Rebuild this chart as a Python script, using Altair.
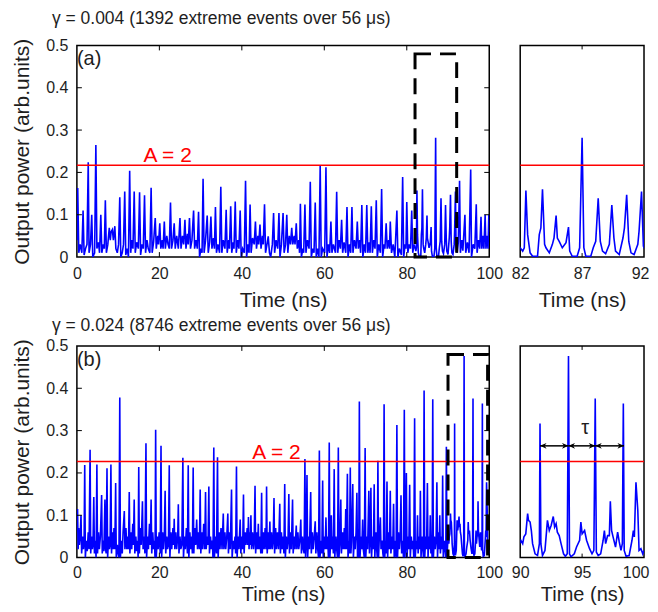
import altair as alt
import pandas as pd

FONT = "Liberation Sans"
BLUE = "#0000ff"
RED = "#ff0000"
INK = "#1e1e1e"

# ---------------- data ----------------
top_title = "γ = 0.004 (1392 extreme events over 56 μs)"
bottom_title = "γ = 0.024 (8746 extreme events over 56 μs)"

# (time ns, output power) — row (a)
top_trace = [
    (0.0, 0.04), (0.2, 0.163), (0.45, 0.01), (0.8, 0.03), (1.2, 0.01), (1.5, 0.11), (1.75, 0.005),
    (2.1, 0.02), (2.45, 0.03), (2.75, 0.224), (2.95, 0.01), (3.3, 0.03), (3.6, 0.10), (3.85, 0.0),
    (4.3, 0.01), (4.6, 0.265), (4.85, 0.02), (5.2, 0.035), (5.5, 0.01), (5.8, 0.10), (6.05, 0.01),
    (6.4, 0.03), (6.65, 0.02), (6.9, 0.134), (7.15, 0.01), (7.5, 0.03), (7.85, 0.069), (8.1, 0.04),
    (8.3, 0.06), (8.6, 0.065), (8.85, 0.04), (9.2, 0.073), (9.45, 0.02), (9.8, 0.01), (10.1, 0.03),
    (10.4, 0.141), (10.65, 0.0), (11.0, 0.01), (11.3, 0.03), (11.6, 0.155), (11.85, 0.005), (12.2, 0.02),
    (12.5, 0.0), (12.8, 0.204), (13.05, 0.01), (13.3, 0.04), (13.6, 0.02), (13.9, 0.155), (14.15, 0.01),
    (14.5, 0.035), (14.9, 0.02), (15.2, 0.153), (15.45, 0.005), (15.8, 0.03), (16.1, 0.02), (16.4, 0.146),
    (16.65, 0.01), (17.0, 0.04), (17.3, 0.02), (17.7, 0.01), (18.0, 0.164), (18.25, 0.01), (18.6, 0.035),
    (19.0, 0.092), (19.25, 0.02), (19.6, 0.05), (19.8, 0.03), (20.1, 0.080), (20.35, 0.02), (20.7, 0.04),
    (20.9, 0.02), (21.2, 0.084), (21.45, 0.02), (21.8, 0.05), (22.1, 0.03), (22.4, 0.02), (22.7, 0.129),
    (22.95, 0.02), (23.3, 0.04), (23.6, 0.08), (23.85, 0.02), (24.2, 0.05), (24.6, 0.02), (25.0, 0.092),
    (25.25, 0.02), (25.6, 0.05), (25.9, 0.03), (26.2, 0.088), (26.45, 0.02), (26.8, 0.055), (27.0, 0.03),
    (27.3, 0.092), (27.55, 0.02), (27.9, 0.04), (28.3, 0.11), (28.55, 0.02), (28.9, 0.04), (29.2, 0.02),
    (29.5, 0.107), (29.75, 0.0), (30.1, 0.02), (30.35, 0.01), (30.6, 0.185), (30.85, 0.01), (31.2, 0.04),
    (31.6, 0.098), (31.85, 0.01), (32.2, 0.035), (32.5, 0.096), (32.75, 0.02), (33.1, 0.045), (33.35, 0.02),
    (33.6, 0.118), (33.85, 0.01), (34.2, 0.03), (34.6, 0.01), (34.9, 0.166), (35.15, 0.01), (35.5, 0.04),
    (35.9, 0.02), (36.2, 0.112), (36.45, 0.01), (36.8, 0.04), (37.0, 0.02), (37.3, 0.12), (37.55, 0.01),
    (37.9, 0.035), (38.1, 0.02), (38.4, 0.131), (38.65, 0.01), (39.0, 0.04), (39.3, 0.02), (39.6, 0.11),
    (39.85, 0.0), (40.2, 0.02), (40.6, 0.01), (40.9, 0.18), (41.15, 0.0), (41.5, 0.03), (41.75, 0.01),
    (42.0, 0.124), (42.25, 0.01), (42.6, 0.045), (43.0, 0.03), (43.3, 0.084), (43.55, 0.02), (43.9, 0.05),
    (44.1, 0.03), (44.4, 0.077), (44.65, 0.02), (45.0, 0.05), (45.2, 0.03), (45.5, 0.125), (45.75, 0.01),
    (46.1, 0.03), (46.4, 0.049), (46.7, 0.01), (47.0, 0.0), (47.4, 0.03), (47.7, 0.104), (47.95, 0.01),
    (48.3, 0.04), (48.7, 0.02), (49.0, 0.104), (49.25, 0.0), (49.6, 0.03), (50.0, 0.104), (50.25, 0.01),
    (50.6, 0.03), (50.9, 0.10), (51.15, 0.01), (51.5, 0.05), (51.8, 0.03), (52.1, 0.069), (52.35, 0.03),
    (52.7, 0.05), (52.9, 0.03), (53.2, 0.08), (53.45, 0.02), (53.8, 0.04), (54.0, 0.01), (54.2, 0.126),
    (54.45, 0.0), (54.8, 0.02), (55.0, 0.01), (55.3, 0.124), (55.55, 0.01), (55.9, 0.04), (56.3, 0.02),
    (56.6, 0.178), (56.85, 0.0), (57.2, 0.02), (57.5, 0.01), (57.8, 0.129), (58.05, 0.0), (58.4, 0.02),
    (58.7, 0.0), (59.0, 0.216), (59.25, 0.0), (59.6, 0.02), (60.1, 0.01), (60.4, 0.212), (60.65, 0.0),
    (61.0, 0.03), (61.3, 0.01), (61.6, 0.084), (61.85, 0.01), (62.2, 0.03), (62.7, 0.01), (63.0, 0.154),
    (63.25, 0.01), (63.6, 0.04), (63.9, 0.02), (64.2, 0.088), (64.45, 0.01), (64.8, 0.035), (65.2, 0.01),
    (65.5, 0.118), (65.75, 0.0), (66.1, 0.03), (66.4, 0.01), (66.7, 0.118), (66.95, 0.01), (67.3, 0.04),
    (67.7, 0.02), (68.0, 0.084), (68.25, 0.02), (68.6, 0.04), (68.8, 0.01), (69.1, 0.123), (69.35, 0.0),
    (69.7, 0.03), (70.0, 0.01), (70.3, 0.123), (70.55, 0.01), (70.9, 0.035), (71.1, 0.01), (71.4, 0.12),
    (71.65, 0.01), (72.0, 0.04), (72.3, 0.02), (72.6, 0.134), (72.85, 0.0), (73.2, 0.03), (73.6, 0.01),
    (73.9, 0.161), (74.15, 0.0), (74.5, 0.03), (74.7, 0.02), (75.0, 0.08), (75.25, 0.02), (75.6, 0.04),
    (75.8, 0.02), (76.0, 0.084), (76.3, 0.01), (76.7, 0.03), (77.1, 0.0), (77.6, 0.11), (77.85, 0.0),
    (78.2, 0.02), (78.7, 0.005), (79.0, 0.189), (79.25, 0.0), (79.6, 0.03), (79.8, 0.02), (80.0, 0.13),
    (80.25, 0.01), (80.6, 0.03), (80.9, 0.02), (81.2, 0.11), (81.45, 0.01), (81.75, 0.03),
    (82.0, 0.022), (82.2, 0.014), (82.33, 0.022), (82.46, 0.157), (82.6, 0.053), (82.8, 0.010),
    (83.0, 0.002), (83.4, 0.002), (83.54, 0.053), (83.67, 0.069), (83.8, 0.16), (83.97, 0.030),
    (84.08, 0.022), (84.35, 0.010), (84.6, 0.030), (84.73, 0.045), (84.9, 0.098), (85.0, 0.045),
    (85.15, 0.037), (85.4, 0.022), (85.7, 0.034), (85.9, 0.071), (86.0, 0.014), (86.2, 0.002),
    (86.6, 0.002), (86.8, 0.022), (87.0, 0.282), (87.14, 0.022), (87.3, 0.002), (87.7, 0.002),
    (87.9, 0.022), (88.1, 0.037), (88.3, 0.139), (88.47, 0.037), (88.65, 0.014), (88.9, 0.008),
    (89.2, 0.030), (89.4, 0.123), (89.57, 0.045), (89.7, 0.014), (90.0, 0.006), (90.3, 0.045),
    (90.42, 0.069), (90.6, 0.147), (90.77, 0.037), (90.95, 0.010), (91.2, 0.006), (91.5, 0.030),
    (91.6, 0.061), (91.8, 0.155), (91.95, 0.026),
    (92.2, 0.01), (92.5, 0.035), (92.8, 0.18), (93.0, 0.01), (93.35, 0.04), (93.6, 0.015), (94.1, 0.1),
    (94.3, 0.01), (94.7, 0.035), (95.1, 0.01), (95.5, 0.207), (95.7, 0.0), (96.1, 0.03), (96.5, 0.02),
    (96.85, 0.125), (97.05, 0.01), (97.4, 0.04), (97.7, 0.02), (98.0, 0.095), (98.2, 0.02), (98.5, 0.05),
    (98.7, 0.02), (99.0, 0.1), (99.2, 0.02), (99.5, 0.05), (99.7, 0.02), (99.9, 0.1), (100.0, 0.06),
]

# (time ns, output power) — row (b)
bottom_trace = [
    (0.0, 0.06), (0.16, 0.115), (0.3, 0.02), (0.45, 0.07), (0.6, 0.03), (0.8, 0.05), (1.0, 0.10),
    (1.15, 0.01), (1.4, 0.05), (1.6, 0.02), (1.75, 0.04), (1.9, 0.219), (2.05, 0.0), (2.3, 0.04),
    (2.5, 0.015), (2.75, 0.06), (2.95, 0.02), (3.2, 0.255), (3.35, 0.01), (3.55, 0.05), (3.75, 0.02),
    (3.9, 0.03), (4.1, 0.143), (4.25, 0.01), (4.45, 0.04), (4.65, 0.0), (4.85, 0.22), (5.0, 0.01),
    (5.25, 0.06), (5.45, 0.02), (5.7, 0.05), (6.0, 0.148), (6.15, 0.01), (6.35, 0.04), (6.55, 0.015),
    (6.8, 0.137), (6.95, 0.02), (7.1, 0.01), (7.3, 0.211), (7.45, 0.0), (7.7, 0.05), (7.9, 0.02),
    (8.05, 0.03), (8.25, 0.22), (8.4, 0.01), (8.6, 0.06), (8.8, 0.02), (9.0, 0.07), (9.2, 0.02),
    (9.4, 0.176), (9.55, 0.0), (9.8, 0.03), (10.0, 0.01), (10.2, 0.0), (10.4, 0.378), (10.55, 0.0),
    (10.8, 0.04), (11.0, 0.01), (11.2, 0.06), (11.5, 0.11), (11.65, 0.02), (11.9, 0.07), (12.1, 0.02),
    (12.35, 0.05), (12.5, 0.02), (12.7, 0.155), (12.85, 0.01), (13.1, 0.06), (13.3, 0.02), (13.55, 0.08),
    (13.7, 0.03), (13.9, 0.137), (14.05, 0.01), (14.3, 0.05), (14.5, 0.015), (14.7, 0.04), (14.85, 0.0),
    (15.0, 0.214), (15.15, 0.01), (15.4, 0.07), (15.6, 0.03), (15.9, 0.133), (16.05, 0.02), (16.3, 0.05),
    (16.5, 0.01), (16.75, 0.27), (16.9, 0.0), (17.15, 0.05), (17.35, 0.02), (17.6, 0.08), (17.8, 0.03),
    (18.0, 0.137), (18.15, 0.01), (18.4, 0.06), (18.6, 0.02), (18.8, 0.04), (18.95, 0.0), (19.1, 0.302),
    (19.25, 0.0), (19.5, 0.05), (19.7, 0.02), (19.95, 0.06), (20.2, 0.01), (20.4, 0.264), (20.55, 0.0),
    (20.8, 0.06), (21.0, 0.02), (21.2, 0.05), (21.4, 0.158), (21.55, 0.01), (21.8, 0.05), (22.0, 0.02),
    (22.2, 0.03), (22.4, 0.218), (22.55, 0.0), (22.8, 0.06), (23.0, 0.02), (23.3, 0.07), (23.45, 0.03),
    (23.6, 0.092), (23.75, 0.02), (24.0, 0.06), (24.2, 0.02), (24.45, 0.05), (24.6, 0.126), (24.75, 0.01),
    (25.0, 0.05), (25.2, 0.02), (25.45, 0.03), (25.7, 0.236), (25.85, 0.0), (26.1, 0.05), (26.3, 0.02),
    (26.55, 0.07), (26.8, 0.01), (27.0, 0.218), (27.15, 0.0), (27.4, 0.06), (27.6, 0.02), (27.85, 0.05),
    (28.0, 0.01), (28.2, 0.213), (28.35, 0.01), (28.6, 0.07), (28.8, 0.03), (29.05, 0.09), (29.25, 0.02),
    (29.5, 0.06), (29.7, 0.02), (29.9, 0.161), (30.05, 0.01), (30.3, 0.06), (30.5, 0.02), (30.75, 0.08),
    (31.0, 0.02), (31.2, 0.155), (31.35, 0.02), (31.6, 0.05), (31.8, 0.03), (32.0, 0.168), (32.15, 0.01),
    (32.4, 0.05), (32.6, 0.02), (32.85, 0.04), (33.0, 0.0), (33.2, 0.26), (33.35, 0.0), (33.6, 0.05),
    (33.85, 0.01), (34.1, 0.237), (34.25, 0.0), (34.5, 0.06), (34.7, 0.02), (34.95, 0.07), (35.2, 0.02),
    (35.5, 0.104), (35.65, 0.02), (35.9, 0.06), (36.1, 0.02), (36.35, 0.05), (36.6, 0.104), (36.75, 0.01),
    (37.0, 0.06), (37.2, 0.02), (37.5, 0.161), (37.65, 0.0), (37.9, 0.04), (38.1, 0.02), (38.35, 0.05),
    (38.5, 0.01), (38.7, 0.215), (38.85, 0.0), (39.1, 0.05), (39.3, 0.02), (39.6, 0.09), (39.75, 0.01),
    (40.0, 0.05), (40.2, 0.02), (40.4, 0.149), (40.55, 0.01), (40.8, 0.06), (41.0, 0.03), (41.3, 0.07),
    (41.45, 0.03), (41.6, 0.096), (41.75, 0.02), (41.9, 0.06), (42.05, 0.03), (42.2, 0.10), (42.35, 0.02),
    (42.6, 0.06), (42.85, 0.02), (43.0, 0.04), (43.2, 0.17), (43.35, 0.01), (43.6, 0.06), (43.8, 0.02),
    (44.0, 0.08), (44.15, 0.02), (44.4, 0.05), (44.6, 0.01), (44.8, 0.153), (44.95, 0.01), (45.2, 0.06),
    (45.4, 0.02), (45.65, 0.07), (45.85, 0.02), (46.0, 0.168), (46.15, 0.01), (46.4, 0.06), (46.6, 0.02),
    (46.8, 0.085), (46.95, 0.02), (47.2, 0.06), (47.4, 0.02), (47.6, 0.04), (47.8, 0.141), (47.95, 0.01),
    (48.2, 0.07), (48.4, 0.02), (48.65, 0.06), (48.9, 0.02), (49.2, 0.127), (49.35, 0.01), (49.6, 0.06),
    (49.8, 0.02), (50.05, 0.05), (50.2, 0.01), (50.4, 0.174), (50.55, 0.0), (50.8, 0.05), (51.0, 0.02),
    (51.2, 0.04), (51.4, 0.15), (51.55, 0.01), (51.8, 0.06), (52.0, 0.02), (52.3, 0.137), (52.45, 0.01),
    (52.7, 0.05), (52.9, 0.02), (53.2, 0.076), (53.35, 0.02), (53.6, 0.06), (53.8, 0.02), (54.05, 0.04),
    (54.3, 0.09), (54.45, 0.01), (54.7, 0.05), (54.9, 0.02), (55.1, 0.01), (55.3, 0.233), (55.45, 0.0),
    (55.6, 0.03), (55.8, 0.195), (55.95, 0.0), (56.2, 0.05), (56.4, 0.02), (56.7, 0.155), (56.85, 0.01),
    (57.1, 0.06), (57.3, 0.02), (57.55, 0.05), (57.8, 0.086), (57.95, 0.01), (58.2, 0.06), (58.4, 0.02),
    (58.6, 0.0), (58.8, 0.253), (58.95, 0.0), (59.2, 0.04), (59.4, 0.01), (59.6, 0.182), (59.75, 0.0),
    (60.0, 0.05), (60.2, 0.02), (60.4, 0.095), (60.55, 0.02), (60.8, 0.05), (61.0, 0.0), (61.2, 0.272),
    (61.35, 0.0), (61.5, 0.03), (61.7, 0.1), (61.85, 0.02), (62.0, 0.05), (62.2, 0.01), (62.4, 0.209),
    (62.55, 0.0), (62.8, 0.05), (63.0, 0.02), (63.2, 0.0), (63.4, 0.26), (63.55, 0.0), (63.8, 0.04),
    (64.0, 0.137), (64.15, 0.01), (64.4, 0.06), (64.6, 0.02), (64.85, 0.07), (65.0, 0.02), (65.2, 0.115),
    (65.35, 0.02), (65.6, 0.198), (65.75, 0.0), (66.0, 0.04), (66.1, 0.01), (66.3, 0.213), (66.45, 0.01),
    (66.6, 0.04), (66.9, 0.174), (67.05, 0.0), (67.3, 0.05), (67.5, 0.02), (67.7, 0.06), (67.9, 0.153),
    (68.05, 0.0), (68.25, 0.02), (68.35, 0.0), (68.5, 0.369), (68.65, 0.0), (68.9, 0.05), (69.1, 0.02),
    (69.3, 0.09), (69.45, 0.02), (69.7, 0.0), (69.9, 0.259), (70.05, 0.0), (70.3, 0.05), (70.5, 0.02),
    (70.8, 0.158), (70.95, 0.01), (71.1, 0.04), (71.3, 0.165), (71.45, 0.0), (71.7, 0.05), (71.9, 0.02),
    (72.1, 0.173), (72.25, 0.0), (72.5, 0.06), (72.7, 0.02), (72.85, 0.0), (73.0, 0.229), (73.15, 0.0),
    (73.35, 0.05), (73.6, 0.095), (73.75, 0.02), (74.0, 0.04), (74.2, 0.01), (74.35, 0.0), (74.5, 0.362),
    (74.65, 0.0), (74.9, 0.04), (75.0, 0.01), (75.2, 0.18), (75.35, 0.0), (75.6, 0.06), (75.8, 0.02),
    (76.0, 0.158), (76.15, 0.01), (76.4, 0.05), (76.6, 0.02), (76.8, 0.127), (76.95, 0.0), (77.2, 0.04),
    (77.4, 0.0), (77.6, 0.313), (77.75, 0.0), (78.0, 0.06), (78.2, 0.02), (78.4, 0.05), (78.6, 0.147),
    (78.75, 0.01), (79.0, 0.04), (79.2, 0.0), (79.4, 0.349), (79.55, 0.0), (79.7, 0.03), (79.9, 0.2),
    (80.05, 0.0), (80.3, 0.05), (80.5, 0.02), (80.7, 0.172), (80.85, 0.0), (81.1, 0.05), (81.3, 0.02),
    (81.5, 0.04), (81.7, 0.0), (81.9, 0.329), (82.05, 0.0), (82.3, 0.04), (82.45, 0.02), (82.6, 0.1),
    (82.75, 0.01), (83.0, 0.05), (83.15, 0.02), (83.3, 0.158), (83.45, 0.0), (83.7, 0.05), (83.9, 0.02),
    (84.05, 0.0), (84.2, 0.395), (84.35, 0.0), (84.6, 0.05), (84.8, 0.02), (85.0, 0.176), (85.15, 0.0),
    (85.4, 0.05), (85.55, 0.02), (85.7, 0.1), (85.85, 0.01), (86.05, 0.02), (86.15, 0.0), (86.3, 0.374),
    (86.45, 0.0), (86.7, 0.05), (86.9, 0.02), (87.1, 0.04), (87.3, 0.178), (87.45, 0.0), (87.7, 0.06),
    (87.85, 0.02), (88.0, 0.1), (88.15, 0.01), (88.4, 0.05), (88.55, 0.02), (88.7, 0.194), (88.85, 0.0),
    (89.1, 0.04), (89.3, 0.02), (89.45, 0.0), (89.6, 0.262), (89.75, 0.0), (89.9, 0.03),
    (90.05, 0.041), (90.2, 0.033), (90.3, 0.049), (90.45, 0.056), (90.6, 0.104), (90.67, 0.088),
    (90.8, 0.084), (90.9, 0.064), (91.0, 0.033), (91.2, 0.009), (91.4, 0.005), (91.55, 0.033),
    (91.6, 0.317), (91.67, 0.033), (91.8, 0.005), (92.0, 0.017), (92.2, 0.088), (92.35, 0.064),
    (92.5, 0.076), (92.67, 0.097), (92.78, 0.072), (92.9, 0.08), (93.0, 0.06), (93.15, 0.052),
    (93.3, 0.033), (93.5, 0.009), (93.65, 0.003), (93.8, 0.009), (93.9, 0.476), (93.98, 0.009),
    (94.1, 0.002), (94.37, 0.009), (94.55, 0.025), (94.8, 0.041), (94.9, 0.084), (95.0, 0.056),
    (95.2, 0.064), (95.36, 0.041), (95.6, 0.021), (95.8, 0.009), (95.95, 0.017), (96.06, 0.376),
    (96.15, 0.013), (96.3, 0.005), (96.5, 0.009), (96.7, 0.041), (96.8, 0.064), (96.9, 0.033),
    (97.06, 0.052), (97.2, 0.052), (97.28, 0.133), (97.38, 0.064), (97.5, 0.049), (97.7, 0.025),
    (97.87, 0.06), (98.0, 0.037), (98.14, 0.017), (98.25, 0.033), (98.33, 0.364), (98.4, 0.017),
    (98.55, 0.003), (98.8, 0.005), (99.03, 0.041), (99.14, 0.064), (99.22, 0.049), (99.35, 0.178),
    (99.5, 0.111), (99.6, 0.017), (99.75, 0.021), (99.9, 0.009), (100.0, 0.017),
]

top_threshold = 0.217
bottom_threshold = 0.227
threshold_label = "A = 2"
top_label_at = (22.0, 0.224)
bottom_label_at = (48.4, 0.234)
top_window = (82.0, 92.1, 0.0, 0.48)
bottom_window = (90.0, 99.6, 0.0, 0.48)
top_zoom_domain = [82, 92]
bottom_zoom_domain = [90, 100]
top_zoom_ticks = [82, 87, 92]
bottom_zoom_ticks = [90, 95, 100]
time_ticks = [0, 20, 40, 60, 80, 100]
power_ticks = [0, 0.1, 0.2, 0.3, 0.4, 0.5]
tau_arrows = [(91.6, 93.9), (93.9, 96.06), (96.06, 98.38)]
tau_level = 0.264
tau_label_at = (95.25, 0.292)

# ---------------- layout / style ----------------
W_MAIN, W_ZOOM, H = 413, 124, 212
TICK = 5
TOP_AXIS = dict(labelPadding=8, titlePadding=8.5, titleFontSize=21)
BOTTOM_AXIS = dict(labelPadding=7, titlePadding=4, titleFontSize=20)


def tdf(trace):
    return pd.DataFrame(trace, columns=["t", "p"])


def y_enc(show):
    if show:
        axis = alt.Axis(values=power_ticks, title="Output power (arb.units)", ticks=False, domain=False,
                        grid=False, labelPadding=9, titlePadding=13, format=".1~f", labelOverlap=False)
    else:
        axis = None
    return alt.Y("p:Q", scale=alt.Scale(domain=[0, 0.5], nice=False, zero=False), axis=axis)


def x_enc(domain, ticks, style, keep_last_inside=False):
    extra = {}
    if keep_last_inside:
        test = f"datum.value >= {domain[1]}"
        extra = dict(
            labelAlign={"condition": {"test": test, "value": "right"}, "value": "center"},
            labelOffset={"condition": {"test": test, "value": 5}, "value": 0},
        )
    return alt.X("t:Q", scale=alt.Scale(domain=domain, nice=False, zero=False),
                 axis=alt.Axis(values=ticks, title="Time (ns)", ticks=False, domain=False, grid=False,
                               labelFlush=False, labelOverlap=False, format="d", **style, **extra))


def tick_layers(x, y, xticks, yticks, width, tick):
    layers = []
    xt = pd.DataFrame({"t": xticks})
    layers.append(alt.Chart(xt).mark_rule(color="black", strokeWidth=1).encode(
        x=x, y=alt.value(H), y2=alt.value(H - tick)))
    layers.append(alt.Chart(xt).mark_rule(color="black", strokeWidth=1).encode(
        x=x, y=alt.value(0), y2=alt.value(tick)))
    if yticks:
        yt = pd.DataFrame({"p": yticks})
        layers.append(alt.Chart(yt).mark_rule(color="black", strokeWidth=1).encode(
            y=y, x=alt.value(0), x2=alt.value(tick)))
        layers.append(alt.Chart(yt).mark_rule(color="black", strokeWidth=1).encode(
            y=y, x=alt.value(width), x2=alt.value(width - tick)))
    return layers


def main_panel(trace, threshold, label_at, window, letter, title, title_offset, style):
    x = x_enc([0, 100], time_ticks, style)
    y = y_enc(True)
    line = alt.Chart(tdf(trace)).mark_line(color=BLUE, strokeWidth=1.6, clip=True).encode(x=x, y=y)
    thr = alt.Chart(pd.DataFrame({"p": [threshold]})).mark_rule(color=RED, strokeWidth=1.5).encode(y=y)
    lab = alt.Chart(pd.DataFrame({"t": [label_at[0]], "p": [label_at[1]], "s": [threshold_label]})).mark_text(
        color=RED, fontSize=21, font=FONT, align="center", baseline="alphabetic").encode(x=x, y=y, text="s:N")
    box = alt.Chart(pd.DataFrame({"t": [window[0]], "t2": [window[1]], "p": [window[2]], "p2": [window[3]]})
                    ).mark_rect(filled=False, color="black", strokeWidth=3, strokeDash=[16, 9]).encode(
        x=x, x2="t2", y=y, y2="p2")
    let = alt.Chart(pd.DataFrame({"s": [letter]})).mark_text(
        fontSize=20, font=FONT, color=INK, align="left", baseline="top").encode(
        x=alt.value(0), y=alt.value(4), text="s:N")
    layers = [line, thr, box, lab, let] + tick_layers(x, y, time_ticks[1:-1], power_ticks[1:-1], W_MAIN, TICK)
    return alt.layer(*layers).properties(
        width=W_MAIN, height=H,
        title=alt.TitleParams(text=title, anchor="start", frame="group", dx=-25, offset=title_offset,
                              fontSize=17.5, font=FONT, fontWeight="normal", color=INK))


def zoom_panel(trace, threshold, domain, ticks, style, with_tau=False):
    x = x_enc(domain, ticks, style, keep_last_inside=True)
    y = y_enc(False)
    line = alt.Chart(tdf(trace)).mark_line(color=BLUE, strokeWidth=1.6, clip=True).encode(x=x, y=y)
    thr = alt.Chart(pd.DataFrame({"p": [threshold]})).mark_rule(color=RED, strokeWidth=1.5).encode(y=y)
    layers = [line, thr] + tick_layers(x, y, ticks[1:-1], [], W_ZOOM, 4)
    if with_tau:
        arr = pd.DataFrame({"t": [a for a, b in tau_arrows], "t2": [b for a, b in tau_arrows],
                            "p": [tau_level] * len(tau_arrows)})
        layers.append(alt.Chart(arr).mark_rule(color="black", strokeWidth=1.5).encode(x=x, x2="t2", y=y))
        left_heads = pd.DataFrame({"t": [a for a, b in tau_arrows], "p": [tau_level] * len(tau_arrows)})
        right_heads = pd.DataFrame({"t": [b for a, b in tau_arrows], "p": [tau_level] * len(tau_arrows)})
        layers.append(alt.Chart(left_heads).mark_point(
            shape="M1,-0.45L0,0L1,0.45L0.7,0Z", filled=True, color="black", size=170, opacity=1
        ).encode(x=x, y=y))
        layers.append(alt.Chart(right_heads).mark_point(
            shape="M-1,-0.45L0,0L-1,0.45L-0.7,0Z", filled=True, color="black", size=170, opacity=1
        ).encode(x=x, y=y))
        layers.append(alt.Chart(pd.DataFrame({"t": [tau_label_at[0]], "p": [tau_label_at[1]], "s": ["τ"]}))
                      .mark_text(fontSize=20, font=FONT, color=INK, align="center", baseline="alphabetic")
                      .encode(x=x, y=y, text="s:N"))
    return alt.layer(*layers).properties(width=W_ZOOM, height=H)


top_main = main_panel(top_trace, top_threshold, top_label_at, top_window, "(a)", top_title, 10, TOP_AXIS)
top_zoom = zoom_panel(top_trace, top_threshold, top_zoom_domain, top_zoom_ticks, TOP_AXIS)
bottom_main = main_panel(bottom_trace, bottom_threshold, bottom_label_at, bottom_window, "(b)", bottom_title, 3,
                         BOTTOM_AXIS)
bottom_zoom = zoom_panel(bottom_trace, bottom_threshold, bottom_zoom_domain, bottom_zoom_ticks, BOTTOM_AXIS,
                         with_tau=True)

chart = alt.concat(
    top_main, top_zoom, bottom_main, bottom_zoom,
    columns=2, spacing=alt.RowColnumber(row=89, column=31), bounds="flush",
).properties(
    padding={"left": 3, "top": 0, "right": 0, "bottom": 0},
).configure(
    font=FONT
).configure_view(
    stroke="black", strokeWidth=1.5
).configure_axis(
    labelFont=FONT, labelFontSize=16, labelColor=INK,
    titleFont=FONT, titleFontSize=21, titleFontWeight="normal", titleColor=INK,
)

chart.save("out.html", embed_options={"renderer": "svg", "actions": False})
